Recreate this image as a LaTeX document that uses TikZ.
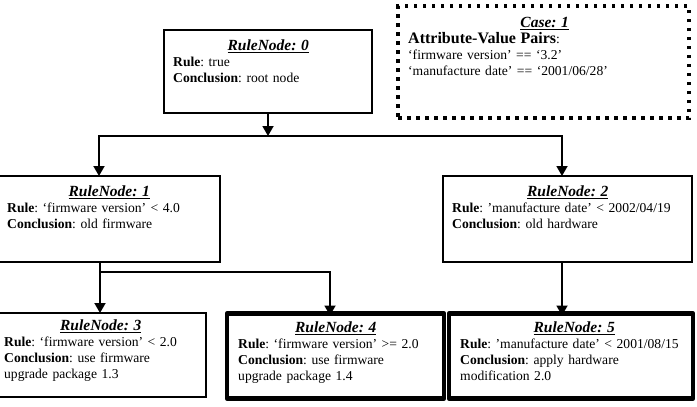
\documentclass[tikz,border=0pt]{standalone}
\usepackage{fontspec}
\setmainfont{Liberation Serif}
\usetikzlibrary{positioning, arrows.meta, calc}
\frenchspacing

\newcommand{\rtitle}[1]{\makebox[\hsize]{\fontsize{15.5}{16}\selectfont\underline{\textbf{\textit{#1}}}}}

\begin{document}
\begin{tikzpicture}[x=1pt, y=-1pt,
          rb/.style={draw, line width=1.5pt, anchor=north west, inner sep=0pt, outer sep=0pt},
          hb/.style={rb, line width=4.5pt, line join=round},
          cb/.style={rb, line width=3.5pt, dash pattern=on 3.5pt off 5.5pt},
          tx/.style={anchor=north west, inner sep=0pt, align=left, font=\fontsize{13.6}{16}\selectfont},
          ar/.style={line width=1.8pt, -{Triangle[width=11pt,length=10pt]}},
          ar2/.style={line width=1.8pt, {Triangle[width=11pt,length=10pt]}-{Triangle[width=11pt,length=10pt]}}]
        \useasboundingbox (0,0) rectangle (697,407);
        \node[rb, minimum width=208pt, minimum height=83pt] (r0) at (164,30) {};
        \node[tx, text width=190pt] (r0t) at ($(r0.north west)+(9,9.5)$) {\rtitle{RuleNode: 0}\\\textbf{Rule}: true\\\textbf{Conclusion}: root node};
        \node[cb, minimum width=291pt, minimum height=112pt] (cs) at (398,6) {};
        \node[tx, text width=273pt] (cst) at ($(cs.north west)+(10,11)$) {\rtitle{Case: 1}\\{\fontsize{16}{16}\selectfont\textbf{Attribute-Value Pairs}}:\\‘firmware version’ == ‘3.2’\\‘manufacture date’ == ‘2001/06/28’};
        \node[rb, minimum width=222pt, minimum height=86pt] (r1) at (-2,176) {};
        \node[tx, text width=204pt] (r1t) at ($(r1.north west)+(9,9.5)$) {\rtitle{RuleNode: 1}\\\textbf{Rule}: ‘firmware version’ < 4.0\\\textbf{Conclusion}: old firmware};
        \node[rb, minimum width=249pt, minimum height=86pt] (r2) at (443,176) {};
        \node[tx, text width=231pt] (r2t) at ($(r2.north west)+(9,9.5)$) {\rtitle{RuleNode: 2}\\\textbf{Rule}: ’manufacture date’ < 2002/04/19\\\textbf{Conclusion}: old hardware};
        \node[rb, minimum width=211pt, minimum height=84pt] (r3) at (-5,313) {};
        \node[tx, text width=193pt] (r3t) at ($(r3.north west)+(9,7)$) {\rtitle{RuleNode: 3}\\\textbf{Rule}: ‘firmware version’ < 2.0\\\textbf{Conclusion}: use firmware\\upgrade package 1.3};
        \node[hb, minimum width=217pt, minimum height=85pt] (r4) at (227,313.5) {};
        \node[tx, text width=195pt] (r4t) at ($(r4.north west)+(11,8)$) {\rtitle{RuleNode: 4}\\\textbf{Rule}: ‘firmware version’ >= 2.0\\\textbf{Conclusion}: use firmware\\upgrade package 1.4};
        \node[hb, minimum width=244pt, minimum height=85pt] (r5) at (449,313.5) {};
        \node[tx, text width=228pt] (r5t) at ($(r5.north west)+(11,8)$) {\rtitle{RuleNode: 5}\\\textbf{Rule}: ’manufacture date’ < 2001/08/15\\\textbf{Conclusion}: apply hardware\\modification 2.0};
        \coordinate (j0) at ($(r0.south)+(0,23)$);
        \coordinate (jl) at (99,136);
        \coordinate (jr) at (562,136);
        \coordinate (k0) at ($(r1.south west)+(102,0)$);
        \coordinate (k1) at ($(k0)+(0,10)$);
        \coordinate (k2) at (330,272);
        \draw[ar] (r0.south) -- (j0);
        \draw[ar2] (jl |- r1.north) -- (jl) -- (jr) -- (jr |- r2.north);
        \draw[ar] (k0) -- (k0 |- r3.north);
        \draw[ar] (k1) -- (k2) -- ([yshift=-2pt]k2 |- r4.north);
        \draw[ar] (jr |- r2.south) -- ([yshift=-2pt]jr |- r5.north);
      \end{tikzpicture}
\end{document}
